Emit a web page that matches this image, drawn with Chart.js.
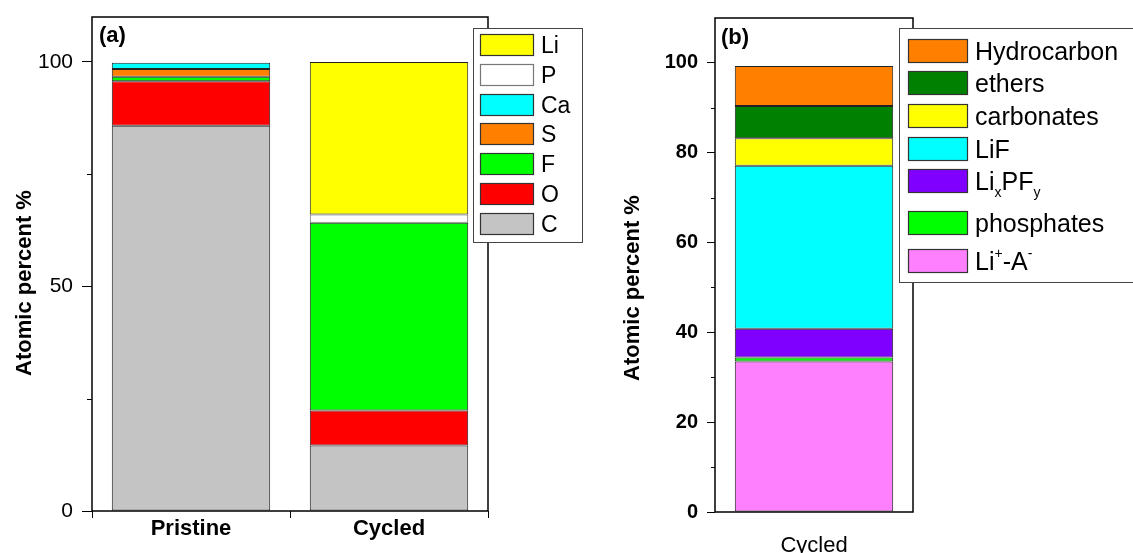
<!DOCTYPE html>
<html>
<head>
<meta charset="utf-8">
<script src="https://cdn.jsdelivr.net/npm/chart.js@4.4.0/dist/chart.umd.min.js"></script>
<style>
body{margin:0;background:#fff;width:1133px;height:553px;overflow:hidden;position:relative}
canvas{position:absolute;top:0}
#chartA{left:0}
#chartB{left:590px}
</style>
</head>
<body>
<canvas id="chartA" width="600" height="553"></canvas>
<canvas id="chartB" width="543" height="553"></canvas>
<script>
const FONT = '"Liberation Sans", Arial, sans-serif';

// (a) elemental composition, atomic %
const samplesA = ['Pristine', 'Cycled'];
const elemC  = [85.8, 14.6];
const elemO  = [9.9, 7.8];
const elemF  = [1.0, 41.8];
const elemS  = [1.7, 0];
const elemCa = [1.4, 0];
const elemP  = [0, 1.8];
const elemLi = [0, 34.0];
const yTicksA = [0, 50, 100];
const yMinorA = [25, 75];

// (b) species on cycled sample
const samplesB = ['Cycled'];
const liA = [33.5];
const phosphates = [0.9];
const lixpfy = [6.4];
const lif = [36.3];
const carbonates = [6.1];
const ethers = [7.2];
const hydrocarbon = [8.9];
const yTicksB = [0, 20, 40, 60, 80, 100];
const yMinorB = [10, 30, 50, 70, 90];

// label text with _{sub} and ^{sup}
function drawRich(ctx, str, x, y, size) {
  const re = /([_^])\{([^}]*)\}|([^_^]+)/g;
  let m;
  while ((m = re.exec(str)) !== null) {
    if (m[3]) {
      ctx.font = size + 'px ' + FONT;
      ctx.fillText(m[3], x, y);
      x += ctx.measureText(m[3]).width;
    } else {
      const s = Math.round(size * 0.55);
      ctx.font = s + 'px ' + FONT;
      const dy = m[1] === '_' ? size * 0.3 : -size * 0.45;
      ctx.fillText(m[2], x, y + dy);
      x += ctx.measureText(m[2]).width;
    }
  }
}

const decor = {
  id: 'decor',
  afterDraw(chart, args, o) {
    const ctx = chart.ctx;
    const a = chart.chartArea;
    const ys = chart.scales.y;
    ctx.save();
    // frame
    ctx.strokeStyle = '#000';
    ctx.lineWidth = 1.5;
    ctx.strokeRect(a.left, a.top, a.right - a.left, a.bottom - a.top);
    // minor ticks
    ctx.lineWidth = 1;
    o.minor.forEach(v => {
      const py = Math.round(ys.getPixelForValue(v)) + 0.5;
      ctx.beginPath();
      ctx.moveTo(a.left - o.minorLen, py);
      ctx.lineTo(a.left, py);
      ctx.stroke();
    });
    // panel label
    ctx.fillStyle = '#000';
    ctx.font = 'bold 22px ' + FONT;
    ctx.textBaseline = 'top';
    ctx.textAlign = 'left';
    ctx.fillText(o.panel, o.panelX, o.panelY);
    // y title
    ctx.save();
    ctx.translate(o.titleX, o.titleY);
    ctx.rotate(-Math.PI / 2);
    ctx.textAlign = 'center';
    ctx.textBaseline = 'middle';
    ctx.font = 'bold 22px ' + FONT;
    ctx.fillText('Atomic percent %', 0, 0);
    ctx.restore();
    // legend
    const L = o.legend;
    ctx.fillStyle = '#fff';
    ctx.fillRect(L.x, L.y, L.w, L.h);
    ctx.strokeStyle = '#444';
    ctx.lineWidth = 1;
    ctx.strokeRect(L.x + 0.5, L.y + 0.5, L.w, L.h);
    const sets = chart.data.datasets.slice().reverse();
    ctx.textAlign = 'left';
    ctx.textBaseline = 'alphabetic';
    sets.forEach((ds, i) => {
      const top = L.rows[i];
      ctx.fillStyle = ds.backgroundColor;
      ctx.fillRect(L.swX, top, L.swW, L.swH);
      ctx.strokeStyle = ds.label === 'P' ? '#777' : '#333';
      ctx.lineWidth = 1.2;
      ctx.strokeRect(L.swX + 0.5, top + 0.5, L.swW, L.swH);
      ctx.fillStyle = '#000';
      drawRich(ctx, ds.label, L.textX, top + L.swH / 2 + L.size * 0.36, L.size);
    });
    ctx.restore();
  }
};

function bars(label, data, color) {
  return {
    label: label,
    data: data,
    backgroundColor: color,
    borderColor: label === 'P' ? '#666' : '#222',
    borderWidth: 1,
    borderSkipped: false,
    categoryPercentage: 1,
    barPercentage: 0.8
  };
}

function fitY(w) {
  return s => { s.width = w; s.paddingTop = 0; s.paddingBottom = 0; };
}
function fitX(h) {
  return s => { s.height = h; s.paddingLeft = 0; s.paddingRight = 0; };
}

new Chart(document.getElementById('chartA'), {
  type: 'bar',
  data: {
    labels: samplesA,
    datasets: [
      bars('C', elemC, '#c4c4c4'),
      bars('O', elemO, '#ff0000'),
      bars('F', elemF, '#00ff00'),
      bars('S', elemS, '#ff8000'),
      bars('Ca', elemCa, '#00ffff'),
      bars('P', elemP, '#ffffff'),
      bars('Li', elemLi, '#ffff00')
    ]
  },
  options: {
    responsive: false,
    animation: false,
    layout: { padding: { left: 0, top: 17, right: 112, bottom: 0 } },
    plugins: {
      legend: { display: false },
      tooltip: { enabled: false },
      decor: {
        panel: '(a)', panelX: 99, panelY: 25,
        titleX: 25, titleY: 283,
        minor: yMinorA, minorLen: 5,
        legend: {
          x: 473, y: 28, w: 109, h: 214,
          swX: 480, swW: 53, swH: 21, textX: 541, size: 23,
          rows: [34, 64, 94, 123, 153, 183, 213]
        }
      }
    },
    scales: {
      x: {
        stacked: true,
        afterFit: fitX(42),
        grid: { drawOnChartArea: false, tickLength: 7, color: '#000', offset: true },
        border: { display: false },
        ticks: { color: '#000', padding: -2, font: { family: FONT, size: 22, weight: 'bold' } }
      },
      y: {
        stacked: true,
        min: 0,
        max: 110,
        afterFit: fitY(92),
        afterBuildTicks: s => { s.ticks = yTicksA.map(v => ({ value: v })); },
        grid: { drawOnChartArea: false, tickLength: 10, color: '#000' },
        border: { display: false },
        ticks: { color: '#000', padding: 9, font: { family: FONT, size: 21 } }
      }
    }
  },
  plugins: [decor]
});

new Chart(document.getElementById('chartB'), {
  type: 'bar',
  data: {
    labels: samplesB,
    datasets: [
      bars('Li^{+}-A^{-}', liA, '#ff80ff'),
      bars('phosphates', phosphates, '#00ff00'),
      bars('Li_{x}PF_{y}', lixpfy, '#8000ff'),
      bars('LiF', lif, '#00ffff'),
      bars('carbonates', carbonates, '#ffff00'),
      bars('ethers', ethers, '#008000'),
      bars('Hydrocarbon', hydrocarbon, '#ff8000')
    ]
  },
  options: {
    responsive: false,
    animation: false,
    layout: { padding: { left: 0, top: 18, right: 220, bottom: 0 } },
    plugins: {
      legend: { display: false },
      tooltip: { enabled: false },
      decor: {
        panel: '(b)', panelX: 131, panelY: 27,
        titleX: 43, titleY: 288,
        minor: yMinorB, minorLen: 4,
        legend: {
          x: 309, y: 28, w: 240, h: 254,
          swX: 318, swW: 59, swH: 23, textX: 385, size: 25,
          rows: [39, 71, 104, 137, 169, 211, 249]
        }
      }
    },
    scales: {
      x: {
        stacked: true,
        afterFit: fitX(41),
        grid: { display: false },
        border: { display: false },
        ticks: { color: '#000', padding: 13, font: { family: FONT, size: 22 } }
      },
      y: {
        stacked: true,
        min: 0,
        max: 110,
        afterFit: fitY(125),
        afterBuildTicks: s => { s.ticks = yTicksB.map(v => ({ value: v })); },
        grid: { drawOnChartArea: false, tickLength: 8, color: '#000' },
        border: { display: false },
        ticks: { color: '#000', padding: 9, font: { family: FONT, size: 20, weight: 'bold' } }
      }
    }
  },
  plugins: [decor]
});
</script>
</body>
</html>
